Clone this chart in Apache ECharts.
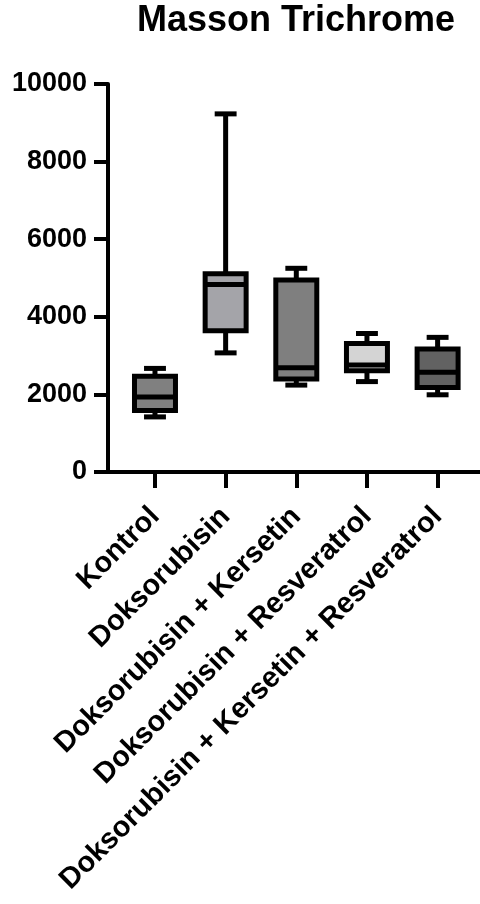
<!DOCTYPE html>
<html>
<head>
<meta charset="utf-8">
<script src="https://cdn.jsdelivr.net/npm/echarts@6/dist/echarts.min.js"></script>
<style>
  html, body { margin: 0; padding: 0; background: #fff; }
  #chart { width: 480px; height: 904px; }
</style>
</head>
<body>
<div id="chart"></div>
<script>
// groups on the x axis
const categories = [
  'Kontrol',
  'Doksorubisin',
  'Doksorubisin + Kersetin',
  'Doksorubisin + Resveratrol',
  'Doksorubisin + Kersetin + Resveratrol'
];
// box statistics
const whiskerMin = [1420, 3070, 2240, 2330, 1990];
const quartile1  = [1585, 3640, 2400, 2610, 2180];
const medians    = [1930, 4830, 2690, 2760, 2570];
const quartile3  = [2470, 5110, 4950, 3310, 3170];
const whiskerMax = [2670, 9230, 5250, 3570, 3470];
const boxFills = ['#808080', '#a4a4a9', '#7f7f7f', '#d4d4d4', '#626262'];
const yTicks = [0, 2000, 4000, 6000, 8000, 10000];

const chart = echarts.init(document.getElementById('chart'));

const boxData = categories.map((c, i) => [i, whiskerMin[i], quartile1[i], medians[i], quartile3[i], whiskerMax[i]]);
const catIdx = categories.map((c, i) => i);

const stroke = { stroke: '#000', lineWidth: 5 };

function renderBox(params, api) {
  const x = api.value(0);
  const pMin = api.coord([x, api.value(1)]);
  const pQ1 = api.coord([x, api.value(2)]);
  const pMed = api.coord([x, api.value(3)]);
  const pQ3 = api.coord([x, api.value(4)]);
  const pMax = api.coord([x, api.value(5)]);
  const unit = api.size([1, 0])[0];
  const half = unit * 0.29;
  const cap = unit * 0.155;
  const cx = pQ1[0];
  return {
    type: 'group',
    children: [
      { type: 'line', shape: { x1: cx, y1: pQ3[1], x2: cx, y2: pMax[1] }, style: stroke },
      { type: 'line', shape: { x1: cx, y1: pQ1[1], x2: cx, y2: pMin[1] }, style: stroke },
      { type: 'line', shape: { x1: cx - cap, y1: pMax[1], x2: cx + cap, y2: pMax[1] }, style: stroke },
      { type: 'line', shape: { x1: cx - cap, y1: pMin[1], x2: cx + cap, y2: pMin[1] }, style: stroke },
      { type: 'rect', shape: { x: cx - half, y: pQ3[1], width: half * 2, height: pQ1[1] - pQ3[1] },
        style: { fill: boxFills[params.dataIndex], stroke: '#000', lineWidth: 5 } },
      { type: 'line', shape: { x1: cx - half, y1: pMed[1], x2: cx + half, y2: pMed[1] }, style: stroke }
    ]
  };
}

const font = 'Liberation Sans, Arial, sans-serif';

chart.setOption({
  animation: false,
  backgroundColor: '#fff',
  title: {
    text: 'Masson Trichrome',
    left: 137,
    top: 3,
    padding: 0,
    textStyle: { fontFamily: font, fontWeight: 'bold', fontSize: 36, color: '#000' }
  },
  grid: { left: 108, right: 0, top: 84, bottom: 432 },
  xAxis: {
    type: 'value',
    min: -0.665,
    max: 4.6,
    splitLine: { show: false },
    axisLine: { show: true, onZero: false, lineStyle: { color: '#000', width: 4 } },
    axisTick: { show: true, customValues: catIdx, length: 16, lineStyle: { color: '#000', width: 4 } },
    axisLabel: {
      customValues: catIdx,
      rotate: 45,
      margin: 40,
      formatter: v => categories[Math.round(v)] || '',
      fontFamily: font, fontWeight: 'bold', fontSize: 29, color: '#000'
    }
  },
  yAxis: {
    type: 'value',
    min: 0,
    max: 10000,
    interval: 2000,
    splitLine: { show: false },
    axisLine: { show: true, onZero: false, lineStyle: { color: '#000', width: 4 } },
    axisTick: { show: true, length: 14, lineStyle: { color: '#000', width: 4 } },
    axisLabel: {
      margin: 21,
      formatter: v => yTicks.includes(v) ? String(v) : '',
      fontFamily: font, fontWeight: 'bold', fontSize: 27, color: '#000'
    }
  },
  series: [{
    type: 'custom',
    renderItem: renderBox,
    encode: { x: 0, y: [1, 2, 3, 4, 5] },
    data: boxData
  }]
});
</script>
</body>
</html>
